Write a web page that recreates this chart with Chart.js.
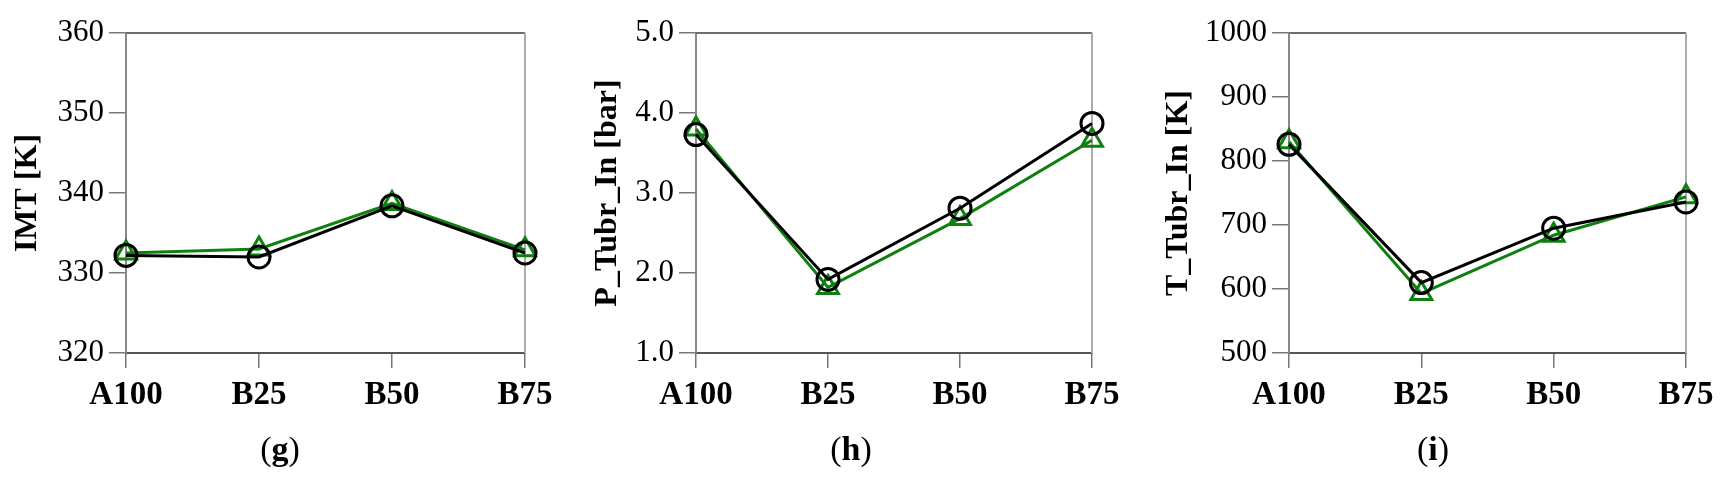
<!DOCTYPE html>
<html>
<head>
<meta charset="utf-8">
<script src="https://cdn.jsdelivr.net/npm/chart.js@4.4.1/dist/chart.umd.min.js"></script>
<style>
  body { margin: 0; background: #fff; width: 1731px; height: 480px; position: relative; overflow: hidden; }
  .panel { position: absolute; top: 0; height: 480px; }
  .caption { position: absolute; top: 429px; font: 34px 'Liberation Serif', 'Times New Roman', serif; line-height: 40px; transform: translateX(-50%); color: #000; }
</style>
</head>
<body>
<div class="panel" style="left:0;width:565px"><canvas id="chartG"></canvas></div>
<div class="panel" style="left:570px;width:562px"><canvas id="chartH"></canvas></div>
<div class="panel" style="left:1150px;width:581px"><canvas id="chartI"></canvas></div>
<div class="caption" style="left:280px">(<b>g</b>)</div>
<div class="caption" style="left:851px">(<b>h</b>)</div>
<div class="caption" style="left:1433px">(<b>i</b>)</div>

<script>
const FONT = "'Liberation Serif', 'Times New Roman', serif";

// Fuel blends on the x axis
const categories = ['A100', 'B25', 'B50', 'B75'];

// (g) intake manifold temperature [K]
const imtBlack = [332.2, 332.0, 338.4, 332.5];
const imtGreen = [332.5, 333.0, 338.7, 332.9];

// (h) turbine inlet pressure [bar]
const pTubrBlack = [3.73, 1.92, 2.81, 3.87];
const pTubrGreen = [3.80, 1.82, 2.68, 3.66];

// (i) turbine inlet temperature [K]
const tTubrBlack = [826, 610, 695, 736];
const tTubrGreen = [830, 593, 684, 744];

// Top and right edges of the plot box
const framePlugin = {
  id: 'frame',
  beforeDatasetsDraw(chart) {
    const { ctx, chartArea: a } = chart;
    ctx.save();
    ctx.lineWidth = 2;
    ctx.strokeStyle = '#6e6e6e';
    ctx.beginPath();
    ctx.moveTo(a.left, a.top);
    ctx.lineTo(a.right, a.top);
    ctx.stroke();
    ctx.strokeStyle = '#ababab';
    ctx.beginPath();
    ctx.moveTo(a.right, a.top);
    ctx.lineTo(a.right, a.bottom);
    ctx.stroke();
    ctx.restore();
  }
};

function makeChart(id, cfg) {
  const ctx = document.getElementById(id);
  return new Chart(ctx, {
    type: 'line',
    data: {
      labels: categories,
      datasets: [
        {
          data: cfg.black,
          borderColor: '#000',
          borderWidth: 3,
          pointStyle: 'circle',
          pointRadius: 11,
          pointBorderWidth: 3,
          pointBorderColor: '#000',
          pointBackgroundColor: 'rgba(0,0,0,0)',
          tension: 0,
          clip: false
        },
        {
          data: cfg.green,
          borderColor: '#0f800f',
          borderWidth: 3,
          pointStyle: 'triangle',
          pointRadius: 12,
          pointBorderWidth: 3,
          pointBorderColor: '#0f800f',
          pointBackgroundColor: 'rgba(0,0,0,0)',
          tension: 0,
          clip: false
        }
      ]
    },
    options: {
      responsive: true,
      maintainAspectRatio: false,
      animation: false,
      plugins: {
        legend: { display: false },
        tooltip: { enabled: false }
      },
      layout: {
        padding: { top: 33, right: cfg.rightPad, bottom: 0, left: 0 }
      },
      scales: {
        x: {
          offset: false,
          ticks: {
            color: '#000',
            padding: 8,
            maxRotation: 0,
            autoSkip: false,
            font: { family: FONT, size: 33, weight: 'bold' }
          },
          grid: {
            drawOnChartArea: false,
            offset: false,
            tickLength: 15,
            color: '#777',
            lineWidth: 1.5
          },
          border: { color: '#555', width: 2 },
          afterFit(scale) { scale.height = 127; }
        },
        y: {
          min: cfg.min,
          max: cfg.max,
          ticks: {
            stepSize: cfg.step,
            color: '#000',
            padding: 5,
            font: { family: FONT, size: 31 },
            callback: v => v.toFixed(cfg.decimals)
          },
          grid: {
            drawOnChartArea: false,
            tickLength: 17,
            color: '#777',
            lineWidth: 1.5
          },
          border: { color: '#888', width: 2 },
          title: {
            display: true,
            text: cfg.title,
            color: '#000',
            font: { family: FONT, size: 32, weight: 'bold' },
            padding: { top: cfg.titlePad, bottom: 0 }
          },
          afterFit(scale) { scale.width = cfg.axisWidth; }
        }
      }
    },
    plugins: [framePlugin]
  });
}

document.addEventListener('DOMContentLoaded', function () {
  makeChart('chartG', {
    title: 'IMT [K]', black: imtBlack, green: imtGreen,
    min: 320, max: 360, step: 10, decimals: 0,
    axisWidth: 126, titlePad: 9, rightPad: 40
  });
  makeChart('chartH', {
    title: 'P_Tubr_In [bar]', black: pTubrBlack, green: pTubrGreen,
    min: 1, max: 5, step: 1, decimals: 1,
    axisWidth: 126, titlePad: 19, rightPad: 40
  });
  makeChart('chartI', {
    title: 'T_Tubr_In [K]', black: tTubrBlack, green: tTubrGreen,
    min: 500, max: 1000, step: 100, decimals: 0,
    axisWidth: 139, titlePad: 10, rightPad: 45
  });
});
</script>
</body>
</html>
